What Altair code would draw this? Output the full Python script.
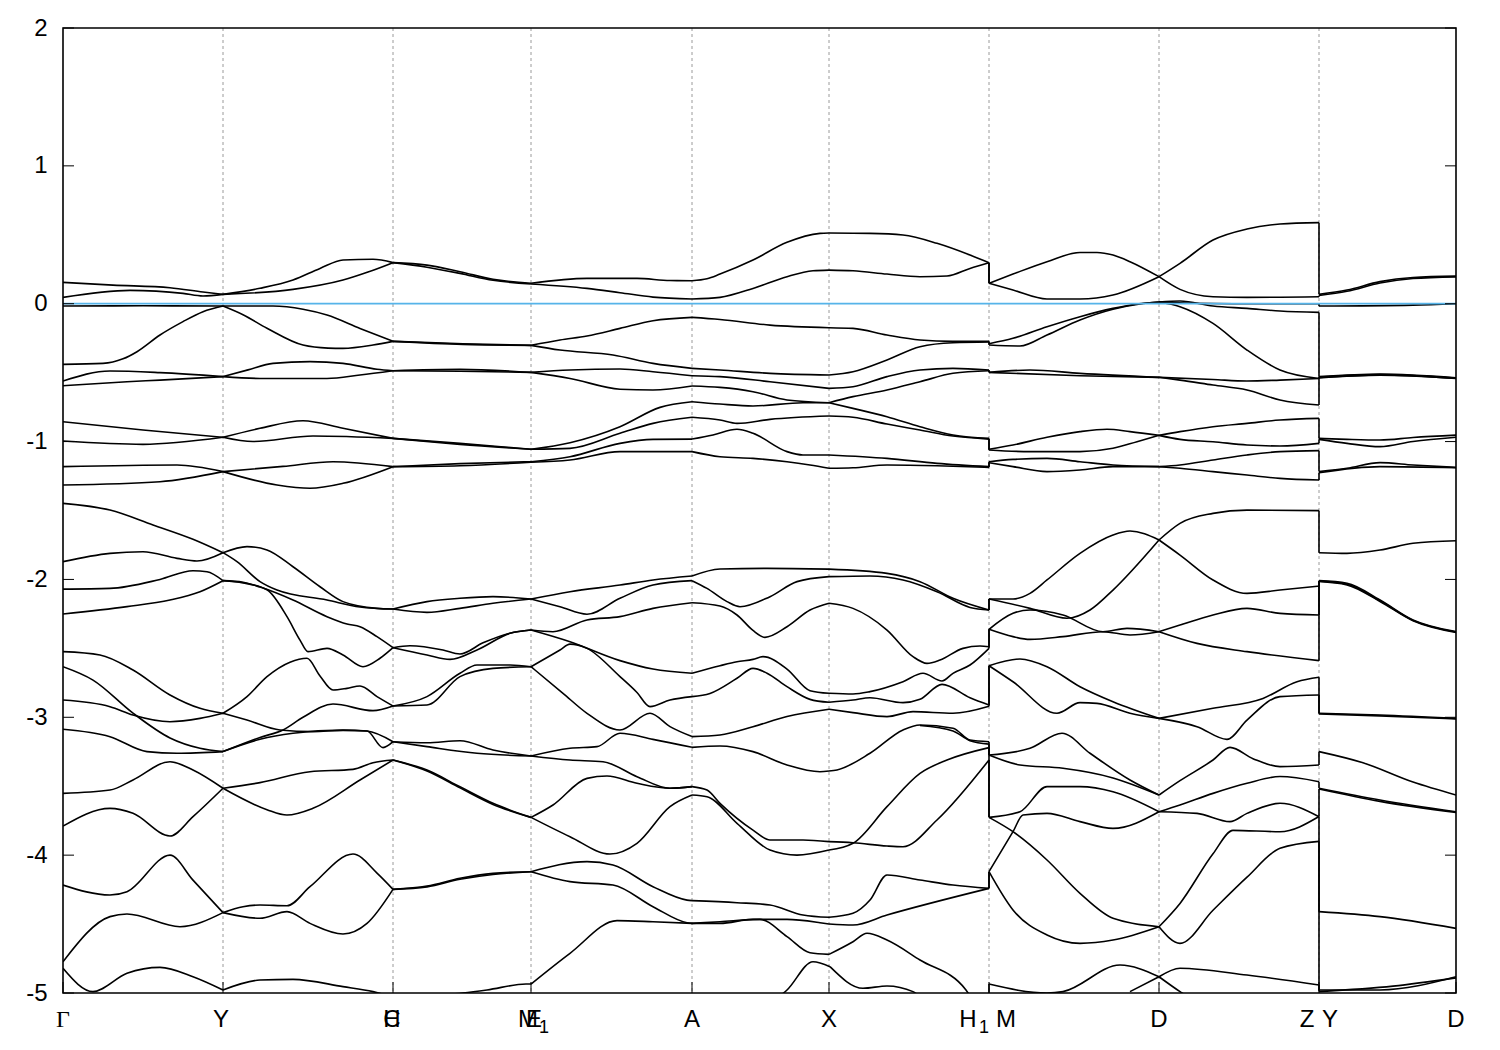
import altair as alt
import pandas as pd

# ---------------- axis / path definitions ----------------
TICK_K = [0, 160, 330, 468, 629, 766, 926, 1096, 1256, 1393]
GRID_K = [160, 330, 468, 629, 766, 926, 1096, 1256]
JUMP_K = [926, 1256]
# x tick label anchors (path units) and texts
LABEL_K = [158, 329, 329, 465, 471, 629, 766, 905, 943, 1096, 1244, 1267, 1393]
LABEL_TEXT = ["Y", "C", "H", "M", "E", "A", "X", "H", "M", "D", "Z", "Y", "D"]
SUB_K = [481, 921]
SUB_TEXT = ["1", "1"]
GAMMA_K = [0]
GAMMA_TEXT = ["Γ"]
Y_TICKS = [2, 1, 0, -1, -2, -3, -4, -5]
E_MIN, E_MAX = -5, 2
K_MAX = 1393

# ---------------- band curves, one list per path segment ----------------
# each curve: [[k, E], ...]
S1 = [
    [[0, 0.155], [50, 0.135], [107, 0.116], [140, 0.085], [160, 0.068]],
    [[0, 0.046], [67, 0.097], [120, 0.075], [140, 0.056], [160, 0.068]],
    [[0, -0.017], [80, -0.015], [160, -0.017]],
    [[0, -0.44], [40, -0.433], [60, -0.4], [74, -0.348], [97, -0.227], [120, -0.13], [140, -0.058], [160, -0.017]],
    [[0, -0.561], [47, -0.488], [97, -0.5], [160, -0.529]],
    [[0, -0.595], [64, -0.566], [97, -0.554], [160, -0.529]],
    [[0, -0.856], [80, -0.916], [160, -0.969]],
    [[0, -0.996], [80, -1.02], [160, -0.969]],
    [[0, -1.182], [114, -1.17], [160, -1.218]],
    [[0, -1.315], [97, -1.291], [160, -1.218]],
    [[0, -1.448], [47, -1.497], [90, -1.605], [130, -1.709], [160, -1.806]],
    [[0, -1.871], [47, -1.811], [80, -1.799], [114, -1.847], [134, -1.866], [160, -1.806]],
    [[0, -2.07], [47, -2.065], [97, -2.0], [130, -1.937], [144, -1.944], [160, -2.009]],
    [[0, -2.251], [64, -2.197], [107, -2.149], [137, -2.089], [160, -2.009]],
    [[0, -2.524], [37, -2.548], [70, -2.657], [107, -2.838], [137, -2.935], [160, -2.971]],
    [[0, -2.633], [30, -2.73], [70, -2.97], [107, -3.15], [137, -3.225], [160, -3.249]],
    [[0, -2.875], [47, -2.923], [70, -2.983], [107, -3.032], [137, -3.008], [160, -2.971]],
    [[0, -3.087], [47, -3.141], [84, -3.249], [114, -3.261], [160, -3.249]],
    [[0, -3.552], [47, -3.528], [70, -3.455], [107, -3.322], [130, -3.383], [160, -3.515]],
    [[0, -3.789], [47, -3.661], [70, -3.697], [107, -3.861], [130, -3.721], [160, -3.515]],
    [[0, -4.217], [47, -4.289], [64, -4.265], [107, -4.0], [130, -4.181], [160, -4.417]],
    [[0, -4.773], [47, -4.446], [64, -4.427], [117, -4.519], [160, -4.417]],
    [[0, -4.821], [30, -4.99], [64, -4.857], [97, -4.814], [130, -4.882], [160, -4.978]],
]

S2 = [
    [[160, 0.068], [197, 0.112], [230, 0.172], [257, 0.256], [280, 0.317], [310, 0.322], [330, 0.298]],
    [[160, 0.068], [230, 0.104], [280, 0.172], [305, 0.23], [330, 0.298]],
    [[160, -0.017], [210, -0.017], [240, -0.04], [264, -0.082], [297, -0.179], [330, -0.273]],
    [[160, -0.017], [180, -0.08], [204, -0.178], [240, -0.3], [265, -0.322], [280, -0.324], [310, -0.3], [330, -0.273]],
    [[160, -0.529], [185, -0.48], [210, -0.433], [247, -0.42], [280, -0.433], [314, -0.475], [330, -0.486]],
    [[160, -0.529], [197, -0.542], [264, -0.542], [297, -0.517], [330, -0.486]],
    [[160, -0.969], [197, -0.904], [240, -0.849], [280, -0.904], [330, -0.977]],
    [[160, -0.969], [190, -1.0], [250, -0.96], [330, -0.977]],
    [[160, -1.218], [220, -1.18], [270, -1.146], [330, -1.182]],
    [[160, -1.218], [214, -1.315], [247, -1.339], [280, -1.303], [330, -1.182]],
    [[160, -1.806], [184, -1.762], [204, -1.786], [230, -1.908], [257, -2.053], [280, -2.161], [314, -2.21], [330, -2.215]],
    [[160, -1.806], [174, -1.871], [197, -2.016], [214, -2.077], [264, -2.149], [297, -2.2], [330, -2.215]],
    [[160, -2.009], [180, -2.02], [197, -2.055], [230, -2.149], [264, -2.27], [284, -2.323], [297, -2.343], [314, -2.415], [330, -2.495]],
    [[160, -2.009], [180, -2.025], [204, -2.075], [224, -2.27], [237, -2.44], [245, -2.524], [264, -2.5], [280, -2.548], [300, -2.633], [317, -2.572], [330, -2.495]],
    [[160, -2.971], [184, -2.85], [204, -2.705], [227, -2.6], [244, -2.572], [257, -2.7], [270, -2.802], [284, -2.79], [297, -2.773], [314, -2.85], [330, -2.918]],
    [[160, -2.971], [184, -3.02], [217, -3.092], [250, -3.104], [280, -3.095], [304, -3.1], [320, -3.22], [330, -3.177]],
    [[160, -3.249], [197, -3.146], [220, -3.092], [240, -3.0], [270, -2.904], [310, -2.952], [330, -2.918]],
    [[160, -3.249], [197, -3.16], [230, -3.116], [280, -3.092], [304, -3.1], [330, -3.177]],
    [[160, -3.515], [197, -3.474], [247, -3.395], [290, -3.378], [310, -3.33], [330, -3.31]],
    [[160, -3.515], [204, -3.67], [224, -3.709], [250, -3.66], [297, -3.455], [330, -3.31]],
    [[160, -4.417], [180, -4.374], [197, -4.362], [224, -4.367], [247, -4.229], [290, -3.992], [314, -4.13], [330, -4.248]],
    [[160, -4.417], [197, -4.458], [224, -4.41], [247, -4.495], [280, -4.572], [304, -4.495], [330, -4.248]],
    [[160, -4.978], [197, -4.906], [230, -4.901], [280, -4.954], [310, -4.99], [330, -5.03]],
]

S3 = [
    [[330, 0.298], [364, 0.28], [397, 0.232], [430, 0.177], [468, 0.148]],
    [[330, 0.298], [364, 0.265], [397, 0.22], [430, 0.17], [468, 0.143]],
    [[330, -0.273], [400, -0.29], [468, -0.302]],
    [[330, -0.273], [400, -0.295], [468, -0.302]],
    [[330, -0.486], [397, -0.476], [468, -0.498]],
    [[330, -0.486], [397, -0.49], [468, -0.498]],
    [[330, -0.977], [397, -1.013], [468, -1.056]],
    [[330, -0.977], [397, -1.02], [468, -1.056]],
    [[330, -1.182], [397, -1.16], [468, -1.146]],
    [[330, -1.182], [397, -1.175], [468, -1.15]],
    [[330, -2.215], [364, -2.161], [397, -2.137], [430, -2.125], [468, -2.142]],
    [[330, -2.215], [364, -2.239], [397, -2.21], [430, -2.173], [468, -2.142]],
    [[330, -2.495], [347, -2.481], [380, -2.512], [397, -2.541], [420, -2.46], [447, -2.39], [468, -2.367]],
    [[330, -2.495], [364, -2.548], [387, -2.58], [414, -2.512], [447, -2.391], [468, -2.367]],
    [[330, -2.918], [364, -2.85], [397, -2.681], [414, -2.621], [447, -2.621], [468, -2.633]],
    [[330, -2.918], [364, -2.911], [397, -2.705], [430, -2.645], [468, -2.633]],
    [[330, -3.177], [364, -3.185], [397, -3.17], [430, -3.237], [468, -3.281]],
    [[330, -3.177], [364, -3.213], [414, -3.261], [468, -3.281]],
    [[330, -3.31], [364, -3.383], [397, -3.504], [430, -3.624], [468, -3.726]],
    [[330, -3.31], [364, -3.39], [397, -3.512], [430, -3.632], [468, -3.726]],
    [[330, -4.248], [364, -4.224], [397, -4.168], [430, -4.132], [468, -4.12]],
    [[330, -4.248], [364, -4.23], [397, -4.175], [430, -4.14], [468, -4.12]],
    [[330, -5.03], [400, -5.0], [424, -4.978], [463, -4.935], [468, -4.935]],
]

S4 = [
    [[468, 0.148], [524, 0.184], [574, 0.184], [607, 0.168], [629, 0.167]],
    [[468, 0.143], [524, 0.111], [557, 0.08], [590, 0.048], [629, 0.034]],
    [[468, -0.302], [497, -0.263], [524, -0.234], [557, -0.179], [590, -0.123], [629, -0.099]],
    [[468, -0.302], [497, -0.336], [550, -0.372], [590, -0.433], [629, -0.469]],
    [[468, -0.498], [507, -0.481], [557, -0.474], [590, -0.493], [629, -0.522]],
    [[468, -0.498], [507, -0.542], [557, -0.62], [590, -0.626], [629, -0.597]],
    [[468, -1.056], [507, -1.008], [557, -0.892], [597, -0.752], [629, -0.711]],
    [[468, -1.056], [507, -1.049], [557, -0.94], [590, -0.868], [629, -0.824]],
    [[468, -1.146], [507, -1.11], [557, -1.013], [590, -0.984], [629, -0.982]],
    [[468, -1.15], [507, -1.134], [557, -1.073], [629, -1.073]],
    [[468, -2.142], [507, -2.089], [557, -2.041], [590, -2.004], [629, -1.975]],
    [[468, -2.142], [497, -2.198], [524, -2.253], [557, -2.137], [590, -2.04], [629, -2.009]],
    [[468, -2.367], [490, -2.379], [524, -2.294], [557, -2.27], [590, -2.21], [629, -2.169]],
    [[468, -2.367], [507, -2.452], [557, -2.589], [590, -2.65], [629, -2.681]],
    [[468, -2.633], [497, -2.512], [507, -2.469], [524, -2.5], [557, -2.705], [574, -2.82], [587, -2.923], [607, -2.875], [629, -2.85]],
    [[468, -2.633], [500, -2.826], [524, -2.971], [557, -3.092], [587, -2.971], [607, -3.068], [629, -3.14]],
    [[468, -3.281], [507, -3.225], [534, -3.213], [557, -3.116], [590, -3.16], [629, -3.218]],
    [[468, -3.281], [507, -3.31], [540, -3.322], [574, -3.431], [607, -3.515], [629, -3.503]],
    [[468, -3.726], [490, -3.636], [524, -3.443], [544, -3.426], [574, -3.479], [607, -3.515], [629, -3.503]],
    [[468, -3.726], [507, -3.866], [547, -3.992], [574, -3.914], [607, -3.648], [629, -3.564]],
    [[468, -4.12], [524, -4.047], [550, -4.072], [590, -4.229], [624, -4.326], [629, -4.33]],
    [[468, -4.12], [507, -4.192], [550, -4.217], [590, -4.374], [624, -4.49], [629, -4.495]],
    [[468, -4.935], [507, -4.712], [554, -4.475], [590, -4.483], [629, -4.495]],
]

S5 = [
    [[629, 0.167], [644, 0.181], [657, 0.215], [690, 0.317], [724, 0.445], [757, 0.51], [766, 0.513]],
    [[629, 0.034], [657, 0.046], [690, 0.111], [724, 0.196], [750, 0.239], [766, 0.244]],
    [[629, -0.099], [657, -0.114], [707, -0.155], [766, -0.174]],
    [[629, -0.469], [657, -0.481], [707, -0.505], [766, -0.517]],
    [[629, -0.522], [657, -0.529], [707, -0.566], [766, -0.614]],
    [[629, -0.597], [657, -0.607], [690, -0.638], [724, -0.698], [766, -0.718]],
    [[629, -0.711], [657, -0.728], [690, -0.742], [740, -0.718], [766, -0.718]],
    [[629, -0.824], [657, -0.844], [674, -0.868], [707, -0.839], [766, -0.815]],
    [[629, -0.982], [650, -0.952], [674, -0.911], [690, -0.94], [724, -1.073], [740, -1.097], [766, -1.097]],
    [[629, -1.073], [657, -1.11], [690, -1.122], [724, -1.146], [747, -1.17], [766, -1.194]],
    [[629, -1.975], [657, -1.924], [704, -1.92], [766, -1.925]],
    [[629, -2.009], [644, -2.065], [664, -2.161], [677, -2.198], [707, -2.125], [734, -2.016], [766, -1.98]],
    [[629, -2.169], [657, -2.193], [674, -2.258], [690, -2.37], [702, -2.42], [724, -2.343], [747, -2.222], [766, -2.173]],
    [[629, -2.681], [657, -2.626], [674, -2.597], [690, -2.58], [700, -2.56], [724, -2.65], [747, -2.807], [766, -2.826]],
    [[629, -2.85], [647, -2.827], [674, -2.717], [690, -2.645], [704, -2.68], [724, -2.778], [747, -2.87], [766, -2.891]],
    [[629, -3.14], [657, -3.128], [690, -3.068], [724, -2.995], [766, -2.942]],
    [[629, -3.218], [657, -3.208], [690, -3.249], [724, -3.346], [757, -3.395], [766, -3.39]],
    [[629, -3.503], [644, -3.528], [657, -3.624], [690, -3.818], [707, -3.89], [740, -3.89], [766, -3.902]],
    [[629, -3.564], [644, -3.576], [674, -3.769], [707, -3.963], [734, -4.0], [766, -3.963]],
    [[629, -4.33], [674, -4.345], [707, -4.362], [740, -4.434], [766, -4.451]],
    [[629, -4.495], [657, -4.495], [690, -4.466], [724, -4.466], [757, -4.49], [766, -4.5]],
    [[629, -4.495], [657, -4.483], [697, -4.466], [724, -4.591], [747, -4.708], [766, -4.72]],
    [[712, -5.05], [724, -4.978], [750, -4.773], [767, -4.809]],
]

S6 = [
    [[766, 0.513], [807, 0.51], [840, 0.498], [874, 0.438], [907, 0.353], [926, 0.297]],
    [[766, 0.244], [790, 0.239], [824, 0.215], [857, 0.196], [884, 0.201], [907, 0.256], [926, 0.297]],
    [[766, -0.174], [790, -0.179], [824, -0.227], [857, -0.263], [890, -0.273], [926, -0.273]],
    [[766, -0.517], [790, -0.493], [824, -0.408], [857, -0.312], [890, -0.283], [926, -0.278]],
    [[766, -0.614], [790, -0.602], [824, -0.529], [857, -0.481], [890, -0.469], [926, -0.481]],
    [[766, -0.718], [790, -0.674], [824, -0.626], [857, -0.566], [890, -0.505], [926, -0.486]],
    [[766, -0.718], [790, -0.759], [824, -0.82], [857, -0.892], [890, -0.952], [926, -0.977]],
    [[766, -0.815], [790, -0.824], [824, -0.873], [857, -0.916], [890, -0.96], [926, -0.982]],
    [[766, -1.097], [824, -1.122], [874, -1.158], [926, -1.182]],
    [[766, -1.194], [790, -1.19], [824, -1.17], [874, -1.175], [926, -1.187]],
    [[766, -1.925], [824, -1.956], [857, -2.016], [890, -2.137], [926, -2.222]],
    [[766, -1.98], [807, -1.975], [840, -2.004], [874, -2.089], [907, -2.203], [926, -2.222]],
    [[766, -2.173], [790, -2.21], [824, -2.367], [850, -2.56], [864, -2.609], [877, -2.585], [900, -2.5], [917, -2.483], [926, -2.488]],
    [[766, -2.826], [790, -2.831], [807, -2.814], [840, -2.742], [860, -2.681], [879, -2.737], [890, -2.681], [907, -2.621], [926, -2.5]],
    [[766, -2.891], [790, -2.875], [807, -2.858], [840, -2.894], [857, -2.87], [879, -2.761], [907, -2.858], [926, -2.911]],
    [[766, -2.942], [790, -2.966], [824, -2.995], [850, -2.959], [890, -2.971], [926, -2.92]],
    [[766, -3.39], [774, -3.382], [807, -3.261], [840, -3.092], [857, -3.056], [890, -3.08], [907, -3.165], [926, -3.177]],
    [[857, -3.06], [890, -3.1], [907, -3.17], [926, -3.195]],
    [[766, -3.902], [790, -3.91], [824, -3.934], [840, -3.939], [874, -3.745], [926, -3.31]],
    [[766, -3.963], [790, -3.914], [824, -3.648], [857, -3.407], [884, -3.31], [926, -3.22]],
    [[766, -4.451], [790, -4.422], [807, -4.326], [824, -4.144], [857, -4.18], [890, -4.217], [926, -4.241]],
    [[766, -4.5], [790, -4.507], [824, -4.434], [926, -4.241]],
    [[766, -4.72], [790, -4.628], [804, -4.567], [824, -4.616], [857, -4.761], [903, -4.978], [926, -5.3]],
    [[767, -4.809], [800, -4.966], [824, -4.949], [850, -4.99], [860, -5.05]],
]

S7 = [
    [[926, 0.148], [950, 0.215], [984, 0.305], [1017, 0.372], [1034, 0.372], [1050, 0.353], [1067, 0.305], [1096, 0.196]],
    [[926, 0.148], [950, 0.099], [984, 0.034], [1017, 0.034], [1050, 0.063], [1096, 0.196]],
    [[926, -0.29], [950, -0.251], [984, -0.167], [1017, -0.094], [1050, -0.034], [1074, -0.002], [1096, 0.012]],
    [[926, -0.3], [957, -0.307], [984, -0.227], [1017, -0.118], [1050, -0.04], [1077, -0.002], [1096, 0.012]],
    [[926, -0.498], [967, -0.481], [1017, -0.505], [1096, -0.534]],
    [[926, -0.498], [1017, -0.522], [1096, -0.534]],
    [[926, -1.056], [950, -1.025], [984, -0.969], [1017, -0.928], [1044, -0.911], [1067, -0.928], [1096, -0.955]],
    [[926, -1.061], [967, -1.073], [1017, -1.073], [1050, -1.049], [1074, -1.001], [1096, -0.955]],
    [[926, -1.146], [950, -1.129], [984, -1.122], [1017, -1.146], [1050, -1.17], [1096, -1.182]],
    [[926, -1.153], [950, -1.182], [984, -1.218], [1017, -1.206], [1050, -1.182], [1096, -1.182]],
    [[926, -2.142], [950, -2.142], [967, -2.101], [984, -2.004], [1017, -1.811], [1050, -1.678], [1067, -1.649], [1096, -1.714]],
    [[926, -2.142], [967, -2.21], [1004, -2.282], [1027, -2.222], [1050, -2.077], [1096, -1.714]],
    [[926, -2.362], [950, -2.246], [967, -2.222], [1000, -2.258], [1040, -2.379], [1064, -2.355], [1096, -2.379]],
    [[926, -2.362], [950, -2.415], [967, -2.435], [1000, -2.415], [1040, -2.379], [1067, -2.403], [1096, -2.379]],
    [[926, -2.626], [957, -2.577], [984, -2.633], [1017, -2.778], [1050, -2.887], [1096, -3.008]],
    [[926, -2.626], [950, -2.742], [994, -2.971], [1017, -2.894], [1034, -2.899], [1067, -2.971], [1096, -3.008]],
    [[926, -3.274], [967, -3.225], [999, -3.116], [1027, -3.261], [1067, -3.455], [1096, -3.564]],
    [[926, -3.274], [957, -3.346], [1000, -3.37], [1050, -3.44], [1096, -3.564]],
    [[926, -3.726], [957, -3.685], [984, -3.503], [1017, -3.503], [1050, -3.54], [1096, -3.685]],
    [[926, -3.726], [950, -3.83], [984, -4.035], [1017, -4.277], [1050, -4.458], [1096, -4.519]],
    [[926, -4.12], [950, -3.83], [960, -3.709], [984, -3.697], [1017, -3.757], [1050, -3.806], [1096, -3.685]],
    [[926, -4.12], [950, -4.398], [984, -4.579], [1017, -4.64], [1050, -4.616], [1096, -4.519]],
    [[926, -4.935], [984, -5.0], [1000, -4.99], [1057, -4.797], [1096, -4.882]],
    [[1067, -4.99], [1096, -4.882]],
]

S8 = [
    [[1096, 0.196], [1117, 0.293], [1150, 0.462], [1184, 0.542], [1217, 0.578], [1256, 0.588]],
    [[1096, 0.196], [1117, 0.104], [1150, 0.051], [1184, 0.046], [1256, 0.051]],
    [[1096, 0.012], [1130, 0.003], [1170, 0.0], [1256, 0.0]],
    [[1096, 0.012], [1117, 0.02], [1150, -0.017], [1184, -0.034], [1217, -0.053], [1256, -0.063]],
    [[1096, 0.012], [1117, -0.022], [1150, -0.143], [1184, -0.336], [1217, -0.481], [1256, -0.542]],
    [[1096, -0.534], [1150, -0.55], [1184, -0.561], [1217, -0.554], [1256, -0.542]],
    [[1096, -0.534], [1117, -0.554], [1150, -0.59], [1184, -0.626], [1217, -0.698], [1256, -0.735]],
    [[1096, -0.955], [1117, -0.928], [1150, -0.892], [1184, -0.868], [1217, -0.844], [1256, -0.832]],
    [[1096, -0.955], [1117, -0.984], [1150, -1.001], [1184, -1.025], [1217, -1.032], [1256, -1.013]],
    [[1096, -1.182], [1117, -1.17], [1150, -1.134], [1184, -1.097], [1217, -1.073], [1256, -1.066]],
    [[1096, -1.182], [1117, -1.194], [1150, -1.218], [1184, -1.243], [1217, -1.267], [1256, -1.279]],
    [[1096, -1.714], [1117, -1.593], [1150, -1.521], [1184, -1.497], [1256, -1.501]],
    [[1096, -1.714], [1117, -1.823], [1150, -2.004], [1184, -2.101], [1217, -2.077], [1256, -2.048]],
    [[1096, -2.379], [1117, -2.331], [1150, -2.258], [1184, -2.21], [1217, -2.246], [1256, -2.258]],
    [[1096, -2.379], [1134, -2.464], [1184, -2.524], [1256, -2.589]],
    [[1096, -3.008], [1150, -2.935], [1200, -2.863], [1234, -2.742], [1256, -2.71]],
    [[1096, -3.008], [1134, -3.068], [1164, -3.16], [1184, -3.02], [1217, -2.85], [1256, -2.838]],
    [[1096, -3.564], [1117, -3.46], [1150, -3.31], [1167, -3.218], [1190, -3.3], [1217, -3.358], [1256, -3.346]],
    [[1096, -3.685], [1117, -3.636], [1150, -3.552], [1184, -3.479], [1217, -3.43], [1256, -3.467]],
    [[1096, -3.685], [1134, -3.697], [1167, -3.757], [1184, -3.697], [1217, -3.624], [1256, -3.721]],
    [[1096, -4.519], [1117, -4.35], [1150, -3.99], [1170, -3.82], [1217, -3.83], [1256, -3.72]],
    [[1096, -4.519], [1117, -4.64], [1150, -4.4], [1184, -4.16], [1217, -3.95], [1256, -3.9]],
    [[1096, -4.882], [1117, -4.82], [1184, -4.87], [1256, -4.942]],
    [[1096, -4.882], [1117, -4.99], [1130, -5.05]],
]

S9 = [
    [[1256, 0.068], [1284, 0.099], [1317, 0.16], [1350, 0.19], [1393, 0.2]],
    [[1256, 0.06], [1284, 0.09], [1317, 0.15], [1350, 0.183], [1393, 0.195]],
    [[1256, -0.017], [1350, -0.01], [1393, 0.0]],
    [[1256, -0.529], [1317, -0.51], [1393, -0.537]],
    [[1256, -0.532], [1317, -0.513], [1393, -0.539]],
    [[1256, -0.535], [1317, -0.516], [1393, -0.541]],
    [[1256, -0.538], [1317, -0.519], [1393, -0.543]],
    [[1256, -0.977], [1284, -0.984], [1317, -0.989], [1350, -0.97], [1393, -0.953]],
    [[1256, -0.984], [1284, -1.013], [1317, -1.037], [1350, -1.0], [1393, -0.969]],
    [[1256, -1.218], [1284, -1.194], [1317, -1.153], [1350, -1.17], [1393, -1.187]],
    [[1256, -1.226], [1317, -1.182], [1393, -1.19]],
    [[1256, -1.806], [1284, -1.811], [1317, -1.787], [1350, -1.738], [1393, -1.719]],
    [[1256, -2.009], [1284, -2.028], [1317, -2.149], [1350, -2.294], [1393, -2.379]],
    [[1256, -2.012], [1284, -2.034], [1317, -2.155], [1350, -2.297], [1393, -2.382]],
    [[1256, -2.015], [1284, -2.04], [1317, -2.16], [1350, -2.3], [1393, -2.385]],
    [[1256, -2.971], [1317, -2.983], [1393, -3.008]],
    [[1256, -2.975], [1317, -2.99], [1393, -3.012]],
    [[1256, -3.249], [1300, -3.33], [1350, -3.47], [1393, -3.564]],
    [[1256, -3.515], [1317, -3.6], [1393, -3.685]],
    [[1256, -3.52], [1317, -3.61], [1393, -3.69]],
    [[1256, -4.41], [1317, -4.446], [1393, -4.531]],
    [[1256, -4.978], [1317, -4.978], [1393, -4.882]],
    [[1256, -4.99], [1330, -4.95], [1393, -4.89]],
]

SEGMENTS = [S1, S2, S3, S4, S5, S6, S7, S8, S9]

# ---------------- build tables ----------------
rows = []
cid = 0
for seg in SEGMENTS:
    for curve in seg:
        for k, e in curve:
            rows.append({"k": k, "E": e, "curve": cid})
        cid += 1
bands = pd.DataFrame(rows)


def ends_at(seg, kk):
    vals = [e for curve in seg for k, e in curve if k == kk]
    return sorted(vals, reverse=True)


jump_rows = []
for kk, left, right in [(JUMP_K[0], S6, S7), (JUMP_K[1], S8, S9)]:
    a = ends_at(left, kk)
    b = ends_at(right, kk)
    for e1, e2 in zip(a, b):
        jump_rows.append({"k": kk, "E1": e1, "E2": e2})
jumps = pd.DataFrame(jump_rows)

grid = pd.DataFrame({"k": GRID_K})
xt = pd.DataFrame({"k": TICK_K})
labels = pd.DataFrame({"k": LABEL_K, "t": LABEL_TEXT})
subs = pd.DataFrame({"k": SUB_K, "t": SUB_TEXT})
gamma = pd.DataFrame({"k": GAMMA_K, "t": GAMMA_TEXT})
yt = pd.DataFrame({"E": Y_TICKS})
fermi = pd.DataFrame({"E": [0]})
frame = pd.DataFrame({"f": [1]})

W, H = 1393, 965
xs = alt.Scale(domain=[0, K_MAX], nice=False, zero=False)
ys = alt.Scale(domain=[E_MIN, E_MAX], nice=False, zero=False)
FONT = "Liberation Sans"
FS = 24


def X(f="k"):
    return alt.X(f + ":Q", scale=xs, axis=None)


grid_layer = alt.Chart(grid).mark_rule(color="#9a9a9a", strokeWidth=1, strokeDash=[3, 3]).encode(
    x=X(), y=alt.value(0), y2=alt.value(H))

band_layer = alt.Chart(bands).mark_line(color="black", strokeWidth=1.6, clip=True,
                                         interpolate="monotone").encode(
    x=X(),
    y=alt.Y("E:Q", scale=ys,
            axis=alt.Axis(values=Y_TICKS, ticks=False, domain=False, grid=False, title=None,
                          labelFontSize=FS, labelFont=FONT, labelColor="black",
                          labelPadding=16,
                          labelExpr="datum.value < 0 ? '-' + format(-datum.value, 'd') : format(datum.value, 'd')")),
    detail="curve:N")

jump_layer = alt.Chart(jumps).mark_rule(color="black", strokeWidth=1.6, clip=True).encode(
    x=X(), y=alt.Y("E1:Q", scale=ys), y2="E2:Q")

fermi_layer = alt.Chart(fermi).mark_rule(color="#56B4E9", strokeWidth=1.8).encode(
    y=alt.Y("E:Q", scale=ys), x=alt.value(0), x2=alt.value(W))

ytick_l = alt.Chart(yt).mark_rule(color="black", strokeWidth=1).encode(
    y=alt.Y("E:Q", scale=ys), x=alt.value(0), x2=alt.value(11))
ytick_r = alt.Chart(yt).mark_rule(color="black", strokeWidth=1).encode(
    y=alt.Y("E:Q", scale=ys), x=alt.value(W - 11), x2=alt.value(W))
xtick_b = alt.Chart(xt).mark_rule(color="black", strokeWidth=1).encode(
    x=X(), y=alt.value(H - 11), y2=alt.value(H))

frame_layer = alt.Chart(frame).mark_rect(fillOpacity=0, stroke="black", strokeWidth=1.6).encode(
    x=alt.value(0), x2=alt.value(W), y=alt.value(0), y2=alt.value(H))

lab_layer = alt.Chart(labels).mark_text(fontSize=FS, font=FONT, color="black",
                                         baseline="middle", align="center").encode(
    x=X(), y=alt.value(H + 27), text="t:N")
sub_layer = alt.Chart(subs).mark_text(fontSize=18, font=FONT, color="black",
                                       baseline="middle", align="center").encode(
    x=X(), y=alt.value(H + 35), text="t:N")
gamma_layer = alt.Chart(gamma).mark_text(fontSize=FS, font="Liberation Serif", color="black",
                                          baseline="middle", align="center").encode(
    x=X(), y=alt.value(H + 27), text="t:N")

chart = alt.layer(
    grid_layer, band_layer, jump_layer, fermi_layer, ytick_l, ytick_r, xtick_b, frame_layer,
    lab_layer, sub_layer, gamma_layer
).properties(
    width=W, height=H,
    autosize=alt.AutoSizeParams(type="none"),
    padding={"left": 55, "top": 20, "right": 30, "bottom": 45},
).configure(background="white").configure_view(strokeWidth=0)

chart.save("out.html", embed_options={"renderer": "svg", "actions": False})
